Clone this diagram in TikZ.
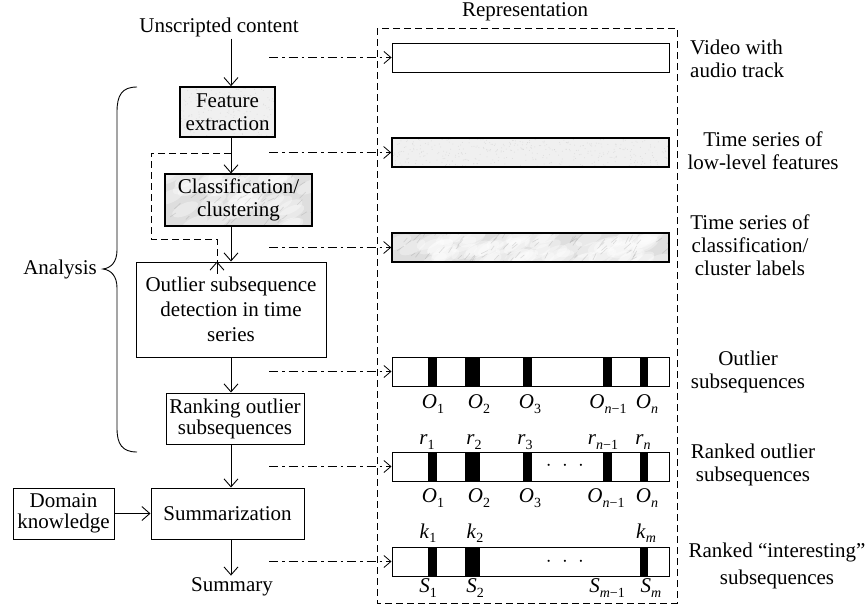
\documentclass[tikz,border=0pt]{standalone}
\usepackage{fontspec}
\setmainfont{Liberation Serif}
\usetikzlibrary{arrows.meta,calc}

\newcommand\figfont{\fontsize{21}{23}\selectfont}
\newcommand\subfont{\fontsize{14}{14}\selectfont}
% italic symbol with a lowered subscript, e.g. \isub{O}{1}
\newcommand\isub[2]{\textit{#1}\raisebox{-0.45ex}{\subfont #2}}

% light speckled texture
\newcommand\specktex[5]{%
  \begin{scope}
    \clip (#1,#2) rectangle (#3,#4);
    \fill[black!6] (#1,#2) rectangle (#3,#4);
    \foreach \k in {1,...,#5}{
      \pgfmathsetmacro\ax{#1+(#3-#1)*rnd}
      \pgfmathsetmacro\ay{#2+(#4-#2)*rnd}
      \fill[black!30,opacity=0.3] (\ax,\ay) circle (0.5);
    }
  \end{scope}}

% grey marble texture
\newcommand\marbtex[5]{%
  \begin{scope}
    \clip (#1,#2) rectangle (#3,#4);
    \fill[black!13] (#1,#2) rectangle (#3,#4);
    \foreach \k in {1,...,#5}{
      \pgfmathsetmacro\ax{#1+(#3-#1)*rnd}
      \pgfmathsetmacro\ay{#2+(#4-#2)*rnd}
      \fill[white,opacity=0.35,rotate around={25:(\ax,\ay)}] (\ax,\ay) ellipse (14 and 6);
    }
    \foreach \k in {1,...,#5}{
      \pgfmathsetmacro\ax{#1+(#3-#1)*rnd}
      \pgfmathsetmacro\ay{#2+(#4-#2)*rnd}
      \draw[black!55,opacity=0.22,line width=0.6pt] (\ax,\ay) -- ++({3+4*rnd},{-3-4*rnd});
    }
  \end{scope}}

\tikzset{
  txt/.style={font=\figfont, inner sep=2pt, align=center},
  box/.style={draw, line width=1pt, align=center, inner sep=2pt, font=\figfont},
  bar/.style={draw, inner sep=0pt, minimum width=277pt, minimum height=29pt, line width=1pt},
  arr/.style={line width=0.9pt, -{Straight Barb[length=8pt,width=14pt,line width=0.9pt]}},
  dd/.style={line width=0.8pt, dash pattern=on 9pt off 4pt on 2.5pt off 4pt,
             -{Straight Barb[length=7pt,width=12pt,line width=0.8pt]}},
  dsh/.style={line width=0.9pt, dash pattern=on 7pt off 4pt},
  lab/.style={font=\figfont, inner sep=0pt}
}

\begin{document}
\begin{tikzpicture}[x=1pt,y=-1pt]
\useasboundingbox (0,0) rectangle (867,606);

% textured fills under the framed boxes
\pgfmathsetseed{11}
\specktex{180}{87}{275}{137}{200}
\marbtex{165}{174}{312}{226}{40}
\specktex{392}{138}{669}{167}{400}
\marbtex{392}{233}{669}{262}{70}

% processing chain
\node[txt] (unscr) at (219,27) {Unscripted content};
\node[box, line width=1.6pt, minimum width=95pt, minimum height=50pt] (feat) at (227.5,112) {Feature\\extraction};
\node[box, line width=1.1pt, minimum width=147pt, minimum height=52pt] (class) at (238.5,200) {Classification/\\clustering};
\node[box, minimum width=190pt, minimum height=95pt, font=\fontsize{21}{25}\selectfont] (outl) at (231,309.5) {Outlier subsequence\\detection in time\\series};
\node[box, minimum width=138pt, minimum height=51pt, font=\fontsize{21}{21}\selectfont] (rank) at (235,418.5) {Ranking outlier\\subsequences};
\node[box, minimum width=153pt, minimum height=51pt] (summ) at (227.5,513.5) {Summarization};
\node[box, minimum width=101pt, minimum height=51pt, font=\fontsize{21}{21}\selectfont] (dom) at (63.5,513.5) {Domain\\knowledge};
\node[txt] (summary) at (232,587) {Summary};

\draw[arr] (unscr.south -| outl.center) -- (feat.north -| outl.center);
\draw[arr] (feat.south -| outl.center) -- (class.north -| outl.center);
\draw[arr] (class.south -| outl.center) -- (outl.north);
\draw[arr] (outl.south) -- (rank.north -| outl.center);
\draw[arr] (rank.south -| outl.center) -- (summ.north -| outl.center);
\draw[arr] (summ.south -| outl.center) -- (summary.north -| outl.center);
\draw[arr] (dom.east) -- (summ.west);

% feedback of the low-level features into outlier detection
\coordinate (fbA) at (231,153);
\coordinate (fbB) at (151,239);
\draw[dsh] (fbA) -| (fbB) -| ([xshift=-14pt]outl.north);
\draw[arr] ([xshift=-14pt,yshift=-12pt]outl.north) -- ([xshift=-14pt]outl.north);

% brace grouping the analysis stages
\draw[line width=0.9pt] (137,87) .. controls (122,87) and (117,95) .. (117,112)
  -- (117,250) .. controls (117,262) and (111,268) .. (103,269)
  .. controls (111,270) and (117,276) .. (117,288)
  -- (117,428) .. controls (117,444) and (122,452) .. (137,452);
\node[txt, anchor=east] (ana) at (99,269) {Analysis};

% representation panel
\node[txt] (rep) at (525,12) {Representation};
\draw[dsh] (377,28) rectangle (677,603);

\node[bar, line width=0.9pt] (b1) at (530.5,57.5) {};
\node[bar, line width=1.6pt] (b2) at (530.5,152.5) {};
\node[bar, line width=1.6pt] (b3) at (530.5,247.5) {};
\node[bar] (b4) at (530.5,371.5) {};
\node[bar] (b5) at (530.5,466.5) {};
\node[bar] (b6) at (530.5,561.5) {};

% links from the chain to the representations
\coordinate (d1) at (269,57.5);
\coordinate (d2) at (269,152.5);
\coordinate (d3) at (269,247.5);
\coordinate (d4) at (269,371.5);
\coordinate (d5) at (269,466.5);
\coordinate (d6) at (269,561.5);
\foreach \i in {1,...,6}{\draw[dd] (d\i) -- (b\i.west);}

% outlier segments
\foreach \yt/\yb in {357/386, 452/481}{
  \fill (428,\yt) rectangle (437,\yb);
  \fill (465,\yt) rectangle (480,\yb);
  \fill (523,\yt) rectangle (532,\yb);
  \fill (603,\yt) rectangle (612,\yb);
  \fill (640,\yt) rectangle (648,\yb);
}
\fill (428,547) rectangle (437,576);
\fill (465,547) rectangle (480,576);
\fill (640,547) rectangle (648,576);

% segment labels
\node[lab] (o41) at (433,404) {\isub{O}{1}};
\node[lab] (o42) at (479,404) {\isub{O}{2}};
\node[lab] (o43) at (530,404) {\isub{O}{3}};
\node[lab] (o44) at (608,404) {\isub{O}{\textit{n}−1}};
\node[lab] (o45) at (647,404) {\isub{O}{\textit{n}}};

\node[lab] (r1) at (427,442) {\isub{r}{1}};
\node[lab] (r2) at (474,442) {\isub{r}{2}};
\node[lab] (r3) at (525,442) {\isub{r}{3}};
\node[lab] (r4) at (603,442) {\isub{r}{\textit{n}−1}};
\node[lab] (r5) at (643,442) {\isub{r}{\textit{n}}};
\node[lab] (dots5) at (565,466) {$\cdot\;\cdot\;\cdot$};
\node[lab] (o51) at (433,498) {\isub{O}{1}};
\node[lab] (o52) at (479,498) {\isub{O}{2}};
\node[lab] (o53) at (530,498) {\isub{O}{3}};
\node[lab] (o54) at (606,498) {\isub{O}{\textit{n}−1}};
\node[lab] (o55) at (647,498) {\isub{O}{\textit{n}}};

\node[lab] (k1) at (428,533) {\isub{k}{1}};
\node[lab] (k2) at (475,533) {\isub{k}{2}};
\node[lab] (k3) at (646,533) {\isub{k}{\textit{m}}};
\node[lab] (dots6) at (565,562) {$\cdot\;\cdot\;\cdot$};
\node[lab] (s1) at (428,588) {\isub{S}{1}};
\node[lab] (s2) at (475,588) {\isub{S}{2}};
\node[lab] (s3) at (607,588) {\isub{S}{\textit{m}−1}};
\node[lab] (s4) at (651,588) {\isub{S}{\textit{m}}};

% captions of the representations
\node[txt, anchor=west, align=left] (c1) at (688,58.5) {Video with\\audio track};
\node[txt] (c2) at (763,150.5) {Time series of\\low-level features};
\node[txt] (c3) at (750,245) {Time series of\\classification/\\cluster labels};
\node[txt] (c4) at (748,372) {Outlier\\subsequences};
\node[txt] (c5) at (753,465) {Ranked outlier\\subsequences};
\node[txt, font=\fontsize{21}{27}\selectfont] (c6) at (777,566) {Ranked “interesting”\\subsequences};
\end{tikzpicture}
\end{document}
